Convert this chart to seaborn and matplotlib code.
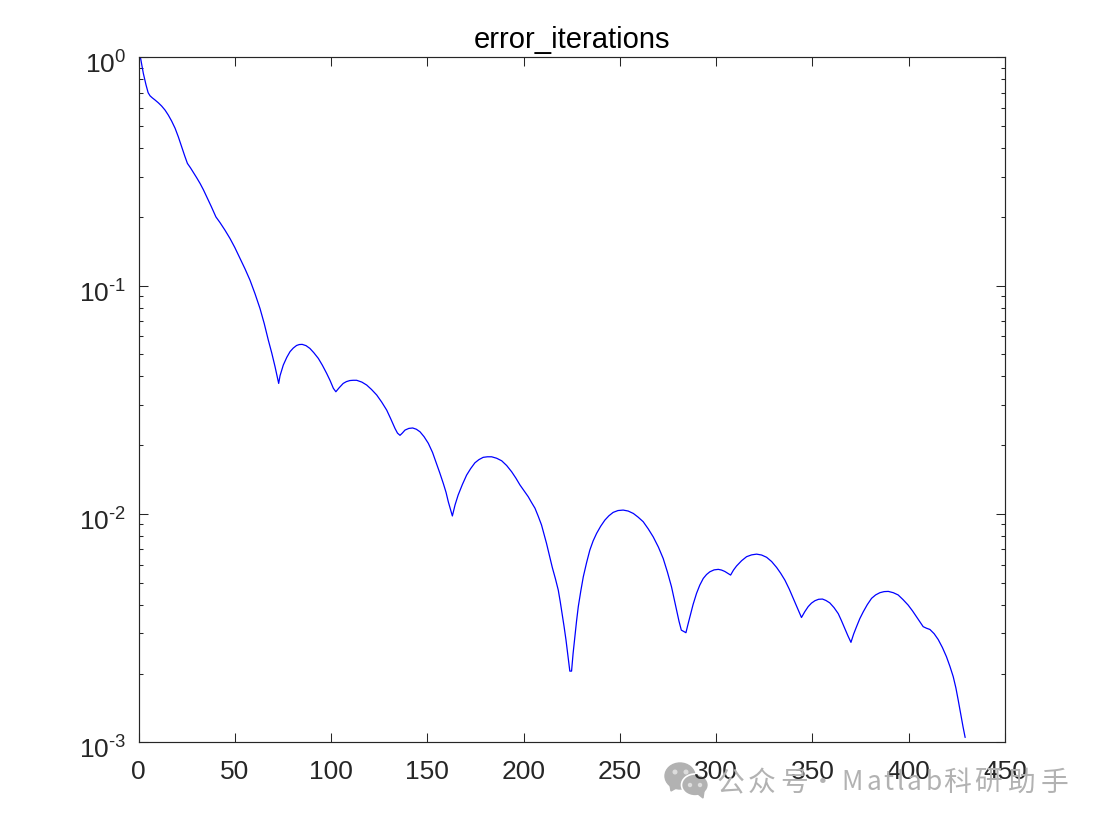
import numpy as np
import pandas as pd
import matplotlib.pyplot as plt
from matplotlib.patches import Circle, Ellipse, Polygon
from matplotlib.ticker import LogLocator, NullFormatter
from matplotlib.transforms import ScaledTranslation
import seaborn as sns

sns.set_theme(style="white")
plt.rcParams["font.family"] = ["Liberation Sans", "DejaVu Sans"]
plt.rcParams.update({
    "mathtext.fontset": "custom", "mathtext.rm": "Liberation Sans",
    "mathtext.default": "rm", "axes.edgecolor": "#262626", "axes.linewidth": 0.85,
})

# iteration / error
iters = [
    1, 2.5, 3.9, 5, 6, 7.2, 8.6, 10.3, 12, 13.8, 15.5, 17.2, 19, 20.7, 22.4, 24, 25.4, 27,
    28.5, 30.2, 32, 33.7, 35.4, 37.8, 40.2, 42.3, 44.9, 47.5, 50, 52.7, 55.3, 57.9, 60.5,
    63.1, 65.3, 67.4, 69.2, 70.9,
    72.8, 73.5, 75.2, 77, 78.7, 80.4, 82.1, 83.5, 85, 87, 89, 91, 93.4, 95.5, 97.7, 99.5, 101.2, 102.5,
    104.2, 106.3, 108, 109.8, 111.5, 113.3, 116, 118.5, 121, 123.7, 126.3, 128.9, 131, 133.2, 134.5, 135.8,
    137, 138.4, 140.4, 142.4, 144.3, 146.2, 148.3, 150.5, 152.7, 154.8, 156.5, 158.3, 159.7, 160.9, 163,
    164.4, 166, 168.2, 170.4, 172.5, 174.7, 176.8, 179, 181.2, 183.4, 186, 188.6, 191.2, 193.8, 196, 198.1,
    200.3, 202.4, 204, 205.9, 207.6, 209.3, 210.6, 211.9, 213.4, 214.9, 216.5, 218, 219, 220, 221, 222, 223, 224, 224.9,
    225.7, 226.6, 227.5, 228.4, 229.7, 231, 232.7, 234.4, 236.1, 237.9, 240, 242.2, 244.3, 246.5, 249, 251.7,
    254.3, 257, 259.5, 262.1, 264.7, 267.3, 270, 272.5, 274.7, 276.8, 278.1, 279.4, 280.7, 281.9, 283.1, 284.3,
    285.3, 286.4, 288, 289.8, 291.5, 293.3, 295, 296.7, 298.9, 301.1, 302.8, 304.5, 306, 307.5,
    309, 310.6, 313.2, 315.8, 318.4, 321, 323.6, 326.2, 328.8, 331.4, 333.5, 335.7, 338, 340, 342.2, 344.3,
    346, 347.8, 349.5, 351.3, 353.2, 355.2, 357, 359, 361.2, 363.4, 365, 366.8, 368.4, 370,
    371.4, 372.9, 374.6, 376.4, 378.5, 380.7, 382.8, 385, 387.2, 389.4, 392, 394.5, 397, 399.7, 402, 404,
    405.8, 407.5, 409.2, 411, 413.2, 415.3, 417.5, 419.6, 421.4, 423.1, 424.5, 425.7, 427, 428.2, 429.3,
]
errors = [
    1.0, .851, .757, .700, .678, .664, .650, .632, .612, .587, .558, .526, .489, .448, .406, .370, .343, .328,
    .313, .297, .28, .263, .245, .222, .2, .189, .175, .161, .147, .1316, .1185, .1057, .0922,
    .0794, .0682, .0578, .0507, .0442,
    .0373, .0403, .0449, .0485, .0514, .0533, .0547, .0552, .0553, .0546, .0531, .0509, .0480, .0448, .0413, .0384, .0355, .0343,
    .0357, .0373, .0380, .0384, .0385, .0385, .0378, .0367, .0351, .0332, .0309, .0285, .0261, .0237, .0226, .0221,
    .0226, .0233, .0237, .0238, .0235, .0229, .0218, .0204, .0186, .0166, .0151, .0136, .01245, .0113, .0098,
    .01096, .0121, .01346, .0148, .0158, .01675, .0173, .0177, .0178, .0178, .01754, .0171, .0163, .0153, .01435, .0134,
    .0126, .0119, .01127, .0106, .00977, .00895, .00817, .00743, .00659, .00583, .00521, .00464, .00414, .00366, .00322, .00281, .0024, .00205, .00205,
    .00245, .0029, .0034, .00393, .0046, .00531, .00612, .00695, .00762, .00822, .00883, .0094, .00982, .01016, .01035, .0104,
    .0103, .01005, .00968, .00925, .00861, .00794, .00716, .00638, .00556, .0048, .00427, .00379, .00339, .0031, .00306, .00302,
    .00327, .00355, .00401, .00449, .00488, .00522, .00543, .00558, .00569, .00572, .00568, .0056, .0055, .0054,
    .00568, .00592, .00624, .0065, .00662, .00667, .00661, .00646, .00619, .00583, .0055, .00513, .00468, .00427, .00387, .00352,
    .00373, .00393, .00407, .00417, .00423, .00424, .00418, .00408, .00389, .00366, .00342, .00315, .00293, .00274,
    .00298, .00321, .00348, .00373, .00401, .00427, .00442, .00452, .00457, .00458, .00452, .00442, .00422, .00399, .00376, .00355,
    .00337, .00321, .00316, .00312, .00299, .00282, .0026, .00237, .00215, .00194, .00173, .00153, .00133, .00117, .00105,
]
x_ticks = [0, 50, 100, 150, 200, 250, 300, 350, 400, 450]
y_ticks = [1e-3, 1e-2, 1e-1, 1e0]
y_labels = [r"$10^{\text{-3}}$", r"$10^{\text{-2}}$", r"$10^{\text{-1}}$", "$10^{0}$"]

df = pd.DataFrame({"iter": iters, "error": errors})

fig = plt.figure(figsize=(11.04, 8.26), dpi=100, facecolor="white")
ax = fig.add_axes([138.5 / 1104, 1 - 742.3 / 826, 866.5 / 1104, 685 / 826])

sns.lineplot(data=df, x="iter", y="error", color="#0000ff", lw=0.9,
             estimator=None, sort=False, ax=ax)

ax.set_yscale("log")
ax.set_xlim(0, 450)
ax.set_ylim(1e-3, 1)
ax.set_xlabel("")
ax.set_ylabel("")
ax.set_title("error_iterations", fontsize=21, color="black", pad=7)

ax.set_xticks(x_ticks)
ax.set_yticks(y_ticks, y_labels)
ax.yaxis.set_minor_locator(LogLocator(base=10, subs=np.arange(2, 10), numticks=12))
ax.yaxis.set_minor_formatter(NullFormatter())
ax.tick_params(which="major", direction="in", length=6.5, width=0.75, top=True, right=True,
               left=True, bottom=True, labelsize=19, labelcolor="#262626", color="#262626")
ax.tick_params(axis="x", which="major", pad=13)
ax.tick_params(axis="y", which="major", pad=9)
ax.tick_params(which="minor", axis="y", direction="in", length=3.2, width=0.75,
               left=True, right=True, color="#262626")

# y labels sit a little below their ticks
for lab in ax.get_yticklabels():
    lab.set_transform(lab.get_transform() + ScaledTranslation(0, -4 / 72, fig.dpi_scale_trans))

# watermark under the x axis, glyph by glyph because of its wide spacing
wm_chars = ["公", "众", "号", "·", "M", "a", "t", "l", "a", "b", "科", "研", "助", "手"]
wm_px = [730, 762, 794, 823, 852, 874, 888, 900, 914, 934, 957, 988, 1021, 1054]
wm_size = [20, 20, 20, 18.5, 19, 19, 19, 19, 19, 19, 20, 20, 20, 20]
for ch, px, fs in zip(wm_chars, wm_px, wm_size):
    fig.text(px / 1104, 1 - 783 / 826, ch, fontsize=fs, color="#b2b2b2", ha="center", va="center",
             family=["Noto Sans CJK SC", "DejaVu Sans"], zorder=0)

# small chat icon in front of the watermark
over = fig.add_axes([0, 0, 1, 1], zorder=-1)
over.set_xlim(0, 1104)
over.set_ylim(826, 0)
over.axis("off")
over.add_patch(Ellipse((680, 776), 30, 26, color="#b2b2b2"))
over.add_patch(Polygon([[670, 785], [671, 791], [678, 787]], color="#b2b2b2"))
over.add_patch(Ellipse((695, 785), 27, 22, fc="#b2b2b2", ec="white", lw=1.2))
over.add_patch(Polygon([[698, 794], [703, 798], [704, 791]], color="#b2b2b2"))
for cx, cy, r in [(675, 772, 1.8), (686, 772, 1.8), (690, 785, 1.5), (700, 785, 1.5)]:
    over.add_patch(Circle((cx, cy), r, color="#dddddd"))

fig.savefig("out.png", dpi=100, facecolor="white")
